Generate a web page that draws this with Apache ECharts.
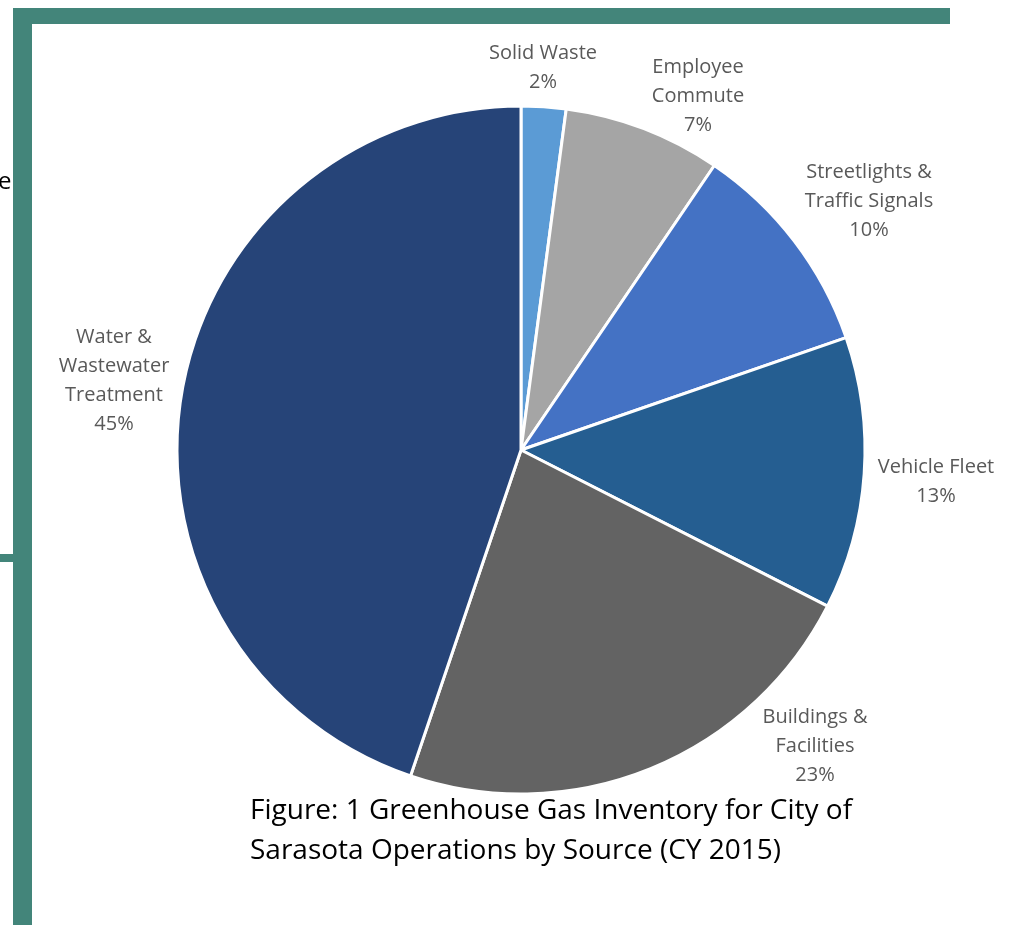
<!DOCTYPE html>
<html><head><meta charset="utf-8">
<script src="https://cdn.jsdelivr.net/npm/echarts@6/dist/echarts.min.js"></script>
<style>html,body{margin:0;padding:0;background:#fff}#c{width:1019px;height:925px}</style>
</head><body><div id="c"></div>
<script>
const categories = ["Solid Waste", "Employee\nCommute", "Streetlights &\nTraffic Signals", "Vehicle Fleet", "Buildings &\nFacilities", "Water &\nWastewater\nTreatment"];
const values = [2.1, 7.4, 10.2, 12.8, 22.7, 44.8];
const colors = ["#5B9BD5", "#A5A5A5", "#4472C4", "#255E91", "#636363", "#264478"];
const titleLines = ["Figure: 1 Greenhouse Gas Inventory for City of", "Sarasota Operations by Source (CY 2015)"];

// label centre positions (layout only)
const labelPos = [[543, 68], [698, 96], [869, 201], [936, 482], [815, 746], [114, 381]];

const chart = echarts.init(document.getElementById('c'));
const green = '#43857A';
const font = 'Open Sans';
chart.setOption({
  animation: false,
  backgroundColor: '#fff',
  graphic: [
    {type:'rect', shape:{x:13,y:8,width:937,height:16}, style:{fill:green}},
    {type:'rect', shape:{x:13,y:8,width:19,height:917}, style:{fill:green}},
    {type:'rect', shape:{x:0,y:554,width:13,height:8}, style:{fill:green}},
    {type:'text', left:-2, top:170, style:{text:'e', font:'24px "Open Sans"', fill:'#000'}}
  ],
  title: {
    text: titleLines.join('\n'),
    left: 245, top: 786,
    textStyle: {fontFamily:font, fontSize:28, fontWeight:'normal', color:'#000', lineHeight:40}
  },
  series: [{
    type: 'pie',
    center: [521, 450],
    radius: 344,
    startAngle: 90,
    clockwise: true,
    data: categories.map((c,i)=>({name:c, value:values[i], itemStyle:{color:colors[i]}})),
    itemStyle: {borderColor:'#fff', borderWidth:3},
    label: {
      position: 'outside',
      formatter: p => p.name + '\n' + Math.round(p.value) + '%',
      fontFamily: font, fontSize: 20, color: '#595959', lineHeight: 29, align: 'center',
      overflow: 'none'
    },
    labelLine: {show:false},
    labelLayout: p => ({x: labelPos[p.dataIndex][0], y: labelPos[p.dataIndex][1], align:'center', verticalAlign:'middle'})
  }]
});
</script></body></html>
